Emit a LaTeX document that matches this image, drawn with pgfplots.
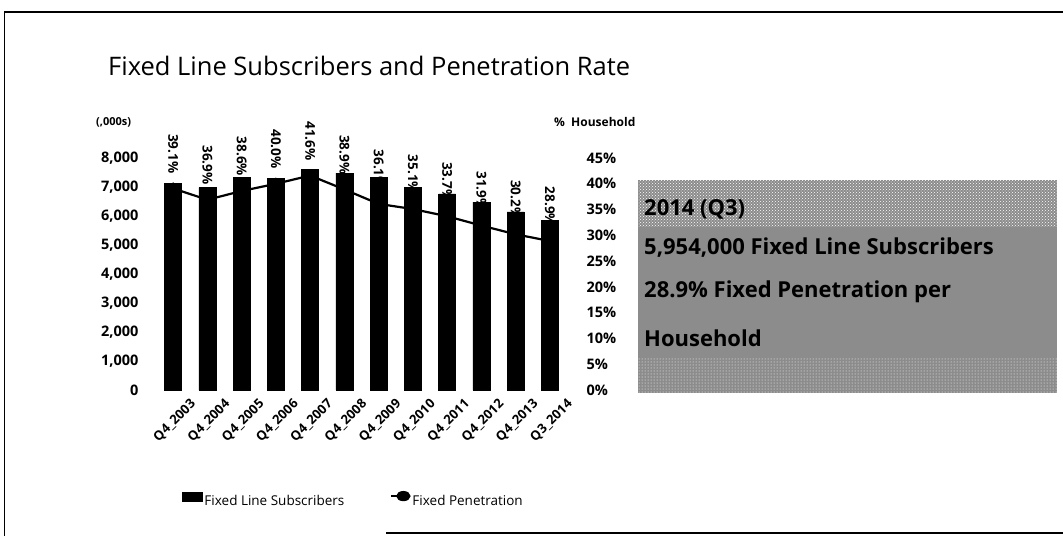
\documentclass[border=0pt]{standalone}
\usepackage{pgfplots}
\pgfplotsset{compat=1.18}
\usepackage{fontspec}
\setmainfont{Open Sans}
\usetikzlibrary{patterns}

\pgfplotstableread{
x subs pen
0 7120 39.1
1 6980 36.9
2 7340 38.6
3 7310 40.0
4 7620 41.6
5 7480 38.9
6 7340 36.1
7 7000 35.1
8 6760 33.7
9 6480 31.9
10 6140 30.2
11 5860 28.9
}\datatable

\begin{document}
\begin{tikzpicture}[x=1pt,y=1pt]
\path[use as bounding box] (0,0) rectangle (1063,-536);
% frame
\draw[line width=1.2pt] (4,-12) -- (1063,-12);
\draw[line width=1pt] (4,-12) -- (4,-536);
\draw[line width=1.2pt] (386,-533) -- (1063,-533);

\node[anchor=base west, font=\fontsize{25.5}{30}\selectfont, inner sep=0] at (108,-75) {Fixed Line Subscribers and Penetration Rate};
\node[font=\bfseries\fontsize{11}{13}\selectfont, anchor=west, inner sep=0] at (96,-122) {(,000s)};
\node[font=\bfseries\fontsize{12}{14}\selectfont, anchor=west, inner sep=0] at (554,-122) {\%\ \ Household};

% noisy summary box
\fill[black!45] (638,-180) rectangle (1057,-393);
\fill[pattern=crosshatch dots, pattern color=white] (638,-180) rectangle (1057,-226);
\fill[pattern=dots, pattern color=white] (638,-358) rectangle (1057,-393);
\begin{scope}[every node/.style={anchor=west, inner sep=0, font=\bfseries\fontsize{22}{25}\selectfont}]
\node at (644,-209) {2014 (Q3)};
\node at (644,-248) {5,954,000 Fixed Line Subscribers};
\node at (644,-292) {28.9\% Fixed Penetration per};
\node at (644,-338) {Household};
\end{scope}

\begin{axis}[
  at={(156pt,-390pt)}, anchor=south west, scale only axis,
  width=411pt, height=232pt,
  xmin=-0.5, xmax=11.5, ymin=0, ymax=8000,
  axis y line*=left, axis x line*=bottom,
  axis line style={draw=none}, major tick length=0pt,
  xtick={0,...,11},
  xticklabels={Q4\_2003,Q4\_2004,Q4\_2005,Q4\_2006,Q4\_2007,Q4\_2008,Q4\_2009,Q4\_2010,Q4\_2011,Q4\_2012,Q4\_2013,Q3\_2014},
  xticklabel style={rotate=45, anchor=east, font=\bfseries\fontsize{13}{14}\selectfont, yshift=-23pt, xshift=6pt, inner sep=0pt},
  ytick={0,1000,...,8000},
  yticklabel style={font=\bfseries\fontsize{14.5}{16}\selectfont, xshift=-14pt},
  /pgf/number format/assume math mode=true,
  /pgf/number format/1000 sep={,},
  scaled y ticks=false,
]
\addplot[ybar, bar width=17pt, fill=black, draw=black] table[x=x, y=subs] {\datatable};
\end{axis}

\begin{axis}[
  at={(156pt,-390pt)}, anchor=south west, scale only axis,
  width=411pt, height=232pt,
  xmin=-0.5, xmax=11.5, ymin=0, ymax=45,
  axis y line*=right, axis x line=none,
  axis line style={draw=none}, major tick length=0pt,
  ytick={0,5,...,45},
  yticklabel={\pgfmathprintnumber{\tick}\%},
  yticklabel style={font=\bfseries\fontsize{14.5}{16}\selectfont, xshift=16pt},
  /pgf/number format/assume math mode=true,
  legend columns=2,
  legend style={draw=none, fill=none, inner sep=0pt, at={(axis description cs:0.063,-0.474)}, anchor=west,
    font=\fontsize{13.5}{15}\selectfont, /tikz/every even column/.append style={column sep=44pt}},
]
\addlegendimage{legend image code/.code={\fill[black] (0pt,0pt) rectangle (20pt,9pt);}}
\addlegendentry{Fixed Line Subscribers}
\addplot[black, line width=2.2pt, mark=diamond*, mark size=4.5pt,
  nodes near coords={\pgfmathprintnumber[fixed,fixed zerofill,precision=1]{\pgfplotspointmeta}\%},
  every node near coord/.append style={font=\bfseries\fontsize{13.5}{15}\selectfont, yshift=14pt, rotate=-90, anchor=east, inner sep=0pt},
  legend image code/.code={\draw[black, line width=2pt] (0pt,5pt) -- (18pt,5pt); \fill[black] (12pt,5pt) ellipse (6pt and 4pt);}
] table[x=x, y=pen, meta=pen] {\datatable};
\addlegendentry{Fixed Penetration}
\end{axis}
\end{tikzpicture}
\end{document}
